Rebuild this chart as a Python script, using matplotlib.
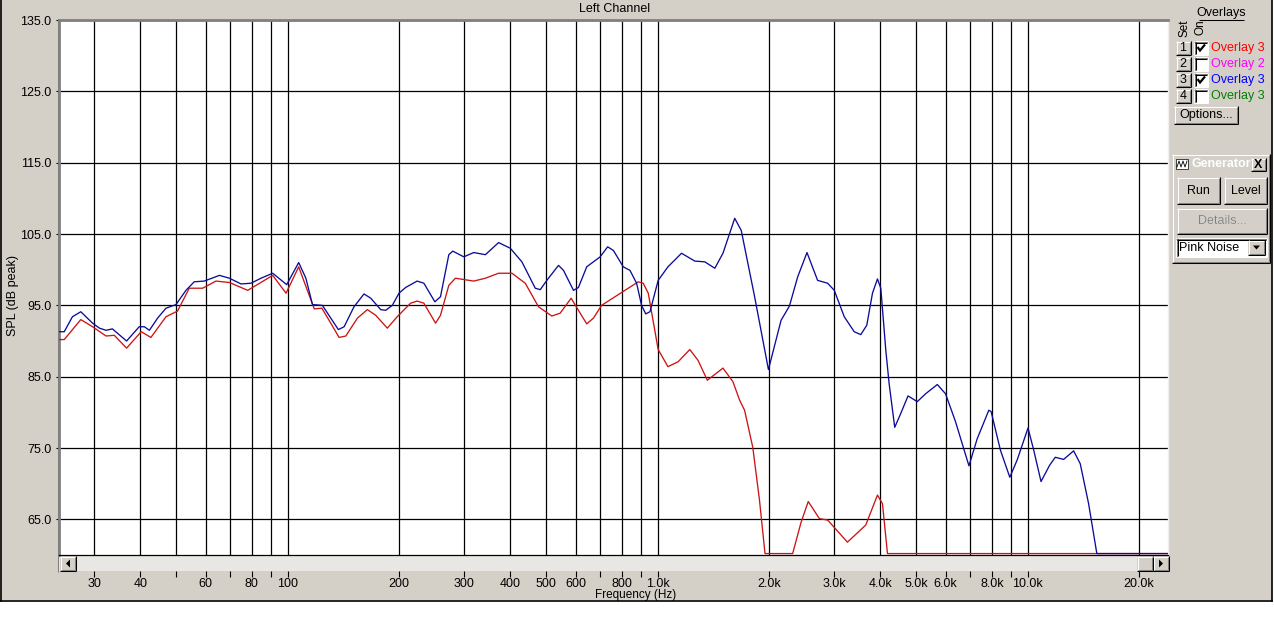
import numpy as np
import matplotlib
matplotlib.use('Agg')
import matplotlib.pyplot as plt
from matplotlib.patches import Rectangle, Polygon
from matplotlib.ticker import NullLocator

plt.rcParams['font.family'] = ['Liberation Sans', 'DejaVu Sans']

# ---------------- data ----------------
blue_freq = [24.0, 24.9, 26.2, 27.6, 29.7, 31.0, 32.3, 33.6, 36.7, 39.7,
             41.0, 42.3, 44.5, 46.9, 49.9, 53.1, 55.9, 59.5, 65.4, 69.6,
             74.8, 79.6, 84.7, 91.1, 99.4, 107.1, 112.0, 116.7, 124.1, 130.8,
             137.1, 142.1, 151.1, 160.8, 167.7, 178.4, 184.0, 191.8, 199.9, 208.3,
             223.8, 233.4, 249.9, 258.8, 272.6, 279.4, 299.2, 318.3, 342.2, 371.6,
             399.6, 429.5, 466.8, 481.6, 501.6, 539.4, 556.5, 592.1, 610.6, 643.0,
             699, 732.5, 758.9, 807.2, 841.6, 877, 904.6, 928.3, 952.9, 1003,
             1066, 1160, 1260, 1340, 1427, 1501, 1615, 1682, 1828, 1992,
             2155, 2270, 2390, 2532, 2705, 2879, 3001, 3193, 3397, 3539,
             3673, 3806, 3926, 4008, 4135, 4222, 4371, 4535, 4748, 5030,
             5297, 5697, 5997, 6380, 6937, 7303, 7851, 7964, 8438, 8945,
             9361, 10019, 10381, 10864, 11466, 11871, 12505, 13306, 13865, 14606,
             15375, 24000]
blue_db = [91.3, 91.3, 93.4, 94.1, 92.5, 91.8, 91.5, 91.7, 90.0, 92.0,
           92.0, 91.5, 93.2, 94.6, 95.1, 97.1, 98.3, 98.4, 99.2, 98.8,
           98.0, 98.1, 98.8, 99.5, 97.9, 101.0, 98.8, 95.1, 95.0, 93.2,
           91.6, 92.0, 94.8, 96.6, 96.0, 94.4, 94.3, 95.0, 96.7, 97.5,
           98.4, 98.1, 95.5, 96.2, 102.1, 102.6, 101.8, 102.4, 102.1, 103.8,
           103.0, 101.1, 97.4, 97.2, 98.5, 100.6, 99.9, 97.1, 97.5, 100.4,
           101.8, 103.2, 102.7, 100.4, 99.9, 98.1, 95.0, 93.8, 94.1, 98.5,
           100.4, 102.3, 101.2, 101.1, 100.2, 102.3, 107.2, 105.5, 96.2, 86.0,
           92.9, 94.9, 99.0, 102.4, 98.5, 98.1, 97.1, 93.4, 91.3, 90.9,
           92.2, 96.7, 98.7, 97.4, 88.7, 84.0, 77.9, 79.8, 82.3, 81.5,
           82.6, 83.9, 82.6, 78.7, 72.5, 76.3, 80.3, 80.1, 74.7, 70.9,
           73.3, 77.8, 74.7, 70.3, 72.6, 73.7, 73.4, 74.6, 72.8, 67.2,
           60.2, 60.2]

red_freq = [24.0, 24.9, 27.6, 29.7, 32.3, 34.0, 36.7, 40.2, 42.7, 46.9,
            50.4, 54.2, 58.9, 64.0, 69.6, 78.0, 91.1, 99.0, 107.1, 112.1,
            118, 123.7, 129.4, 137.7, 143.6, 154.3, 164.2, 173.0, 185.9, 197.7,
            214.9, 223.8, 233.4, 251, 258.8, 272.6, 284, 318.3, 342.2, 371.6,
            403.7, 438.6, 476.3, 517.5, 545, 583.6, 610.6, 643.0, 670.2, 705.5,
            798.7, 886.1, 914, 943, 1003, 1066, 1136, 1221, 1285, 1362,
            1501, 1597, 1665, 1717, 1807, 1884, 1950, 2316, 2438, 2552,
            2735, 2879, 3257, 3650, 3926, 4050, 4178, 24000]
red_db = [90.2, 90.2, 93.0, 92.0, 90.7, 90.8, 89.0, 91.3, 90.5, 93.4,
          94.2, 97.4, 97.4, 98.4, 98.2, 97.1, 99.2, 96.7, 100.4, 97.6,
          94.5, 94.6, 92.9, 90.5, 90.7, 93.2, 94.4, 93.6, 91.8, 93.4,
          95.3, 95.6, 95.3, 92.5, 93.6, 97.8, 98.8, 98.4, 98.8, 99.5,
          99.5, 98.1, 94.8, 93.5, 93.9, 96.0, 94.3, 92.4, 93.2, 95.0,
          96.8, 98.3, 98.1, 96.7, 88.8, 86.4, 87.1, 88.8, 87.3, 84.5,
          86.2, 84.3, 81.7, 80.3, 75.1, 67.7, 60.2, 60.2, 64.5, 67.5,
          65.1, 64.9, 61.8, 64.2, 68.4, 67.2, 60.2, 60.2]

grid_freqs = [30, 40, 50, 60, 70, 80, 90, 100, 200, 300, 400, 500, 600, 700,
              800, 900, 1000, 2000, 3000, 4000, 5000, 6000, 7000, 8000, 9000,
              10000, 20000]
freq_labels = ['30', '40', '', '60', '', '80', '', '100', '200', '300', '400',
               '500', '600', '', '800', '', '1.0k', '2.0k', '3.0k', '4.0k',
               '5.0k', '6.0k', '', '8.0k', '', '10.0k', '20.0k']
db_ticks = [65, 75, 85, 95, 105, 115, 125, 135]

overlay_names = ['Overlay 3', 'Overlay 2', 'Overlay 3', 'Overlay 3']
overlay_colors = ['#ff0000', '#ff00ff', '#0000ff', '#008000']
overlay_on = [True, False, True, False]

# ---------------- figure ----------------
W, H = 1274, 637
fig = plt.figure(figsize=(W / 100, H / 100), dpi=100)
fig.patch.set_facecolor('white')
GRAY = '#d4d0c8'
DARK = '#808080'


def fx(px):
    return px / W


def fy(py):
    return 1 - py / H


bg = fig.add_axes([0, 0, 1, 1])
bg.axis('off')
bg.add_patch(Rectangle((0, 0), 1272, 600, facecolor=GRAY, edgecolor='none'))
LW = 0.75
bg.plot([0.5, 0.5], [0, 600.5], color='black', lw=1.2)
bg.plot([0, 1272], [600.5, 600.5], color='black', lw=1.2)
bg.plot([1271.5, 1271.5], [0, 600.5], color='black', lw=1.2)


def hl(x0, x1, y, c):
    bg.plot([x0, x1], [y, y], color=c, lw=LW, solid_capstyle='butt')


def vl(x, y0, y1, c):
    bg.plot([x, x], [y0, y1], color=c, lw=LW, solid_capstyle='butt')


def raised(x0, y0, x1, y1, face=GRAY):
    bg.add_patch(Rectangle((x0, y0), x1 - x0, y1 - y0, facecolor=face, edgecolor='none'))
    hl(x0, x1, y0 + 0.5, 'white')
    vl(x0 + 0.5, y0, y1, 'white')
    hl(x0, x1, y1 - 0.5, 'black')
    vl(x1 - 0.5, y0, y1, 'black')
    hl(x0 + 1, x1 - 1, y1 - 1.5, DARK)
    vl(x1 - 1.5, y0 + 1, y1 - 1, DARK)


def sunken(x0, y0, x1, y1, face='white'):
    bg.add_patch(Rectangle((x0, y0), x1 - x0, y1 - y0, facecolor=face, edgecolor='none'))
    hl(x0, x1, y0 + 0.5, DARK)
    vl(x0 + 0.5, y0, y1, DARK)
    hl(x0 + 1, x1 - 1, y0 + 1.5, 'black')
    vl(x0 + 1.5, y0 + 1, y1 - 1, 'black')
    hl(x0, x1, y1 - 0.5, 'white')
    vl(x1 - 0.5, y0, y1, 'white')


# scrollbar
bg.add_patch(Rectangle((59, 555), 1110, 16, facecolor='#e9e7e3', edgecolor='none'))
vl(58, 20, 572, DARK)
raised(60, 556, 76, 571)
bg.add_patch(Polygon([(66, 563.5), (70, 559.5), (70, 567.5)], closed=True,
                     facecolor='black', edgecolor='none'))
raised(1137, 556, 1153, 571)
raised(1153, 556, 1169, 571)
bg.add_patch(Polygon([(1163, 563.5), (1159, 559.5), (1159, 567.5)], closed=True,
                     facecolor='black', edgecolor='none'))

# right panel: overlays
bg.text(1221, 13, 'Overlays', ha='center', va='center', fontsize=9)
hl(1199, 1244, 19.5, 'black')
bg.text(1184, 28, 'Set', ha='center', va='center', rotation=90, fontsize=8.5)
bg.text(1200, 27, 'On', ha='center', va='center', rotation=90, fontsize=8.5)
for i in range(4):
    cy = 48 + 16 * i
    raised(1176, cy - 7, 1191, cy + 7)
    bg.text(1183, cy, str(i + 1), ha='center', va='center', fontsize=9)
    sunken(1194, cy - 7, 1208, cy + 7)
    if overlay_on[i]:
        bg.plot([1197.5, 1200, 1205], [cy - 1, cy + 2.5, cy - 3.5], color='black', lw=1.6,
                solid_capstyle='butt', solid_joinstyle='miter')
    bg.text(1211, cy, overlay_names[i], ha='left', va='center', fontsize=9,
            color=overlay_colors[i])
raised(1174, 106, 1238, 124)
bg.text(1206, 115, 'Options...', ha='center', va='center', fontsize=9)

# generator window
raised(1172, 154, 1270, 263)
grad = np.linspace(0, 1, 100)[None, :]
bg.imshow(grad, extent=[1175, 1267, 171, 157], aspect='auto',
          cmap=matplotlib.colors.LinearSegmentedColormap.from_list('g', ['#808080', '#c8c8c8']),
          interpolation='bilinear')
bg.add_patch(Rectangle((1176, 159), 12, 10, facecolor='white', edgecolor='black', lw=0.5))
bg.plot([1177, 1179, 1181, 1183, 1185, 1187], [167, 161, 167, 161, 167, 161],
        color='black', lw=0.6)
bg.text(1191, 164, 'Generator', ha='left', va='center', fontsize=9,
        fontweight='bold', color='white')
raised(1251, 158, 1266, 171)
bg.text(1258.5, 164.5, 'X', ha='center', va='center', fontsize=9, fontweight='bold')
raised(1177, 177, 1220, 204)
bg.text(1198.5, 190.5, 'Run', ha='center', va='center', fontsize=9)
raised(1224, 177, 1267, 204)
bg.text(1245.5, 190.5, 'Level', ha='center', va='center', fontsize=9)
raised(1177, 208, 1267, 234)
bg.text(1222.5, 221.5, 'Details...', ha='center', va='center', fontsize=9, color='white')
bg.text(1222, 221, 'Details...', ha='center', va='center', fontsize=9, color=DARK)
sunken(1176, 238, 1267, 257)
bg.text(1179, 248, 'Pink Noise', ha='left', va='center', fontsize=9)
raised(1248, 240, 1265, 255)
bg.add_patch(Polygon([(1253, 245.5), (1260, 245.5), (1256.5, 249.5)], closed=True,
                     facecolor='black', edgecolor='none'))

bg.set_xlim(0, W)
bg.set_ylim(H, 0)

# labels
fig.text(fx(615), fy(9), 'Left Channel', ha='center', va='center', fontsize=9)
fig.text(fx(636), fy(595), 'Frequency (Hz)', ha='center', va='center', fontsize=8.5)
fig.text(fx(13), fy(296), 'SPL (dB peak)', ha='center', va='center', rotation=90, fontsize=9)

# ---------------- main plot ----------------
XMIN, XMAX = 24.1, 23940
ax = fig.add_axes([fx(59), fy(555), fx(1168) - fx(59), (555 - 20) / H])
ax.set_facecolor('white')
ax.set_xscale('log')
ax.set_xlim(XMIN, XMAX)
ax.set_ylim(60, 135)
ax.set_xticks(grid_freqs)
ax.set_xticklabels([])
ax.xaxis.set_minor_locator(NullLocator())
ax.tick_params(axis='x', length=0)
ax.set_yticks(db_ticks)
ax.set_yticklabels(['%.1f' % v for v in db_ticks])
ax.tick_params(axis='y', length=2.5, width=0.8, pad=3, labelsize=9, direction='out')
ax.grid(True, color='black', lw=0.9)
ax.set_axisbelow(True)
for s in ['left', 'top']:
    ax.spines[s].set_color(DARK)
    ax.spines[s].set_linewidth(2)
ax.spines['right'].set_color('#f0f0f0')
ax.spines['right'].set_linewidth(1)
ax.spines['bottom'].set_color('black')
ax.spines['bottom'].set_linewidth(0.9)
ax.axhline(135, color='black', lw=1.2, zorder=1)

ax.plot(red_freq, red_db, color='#cc1414', lw=0.95, zorder=3)
ax.plot(blue_freq, blue_db, color='#0c0c9c', lw=0.95, zorder=4)

# frequency tick strip below scrollbar
tx = fig.add_axes([fx(59), fy(571), fx(1168) - fx(59), 0.5 / H])
tx.patch.set_alpha(0)
for s in tx.spines.values():
    s.set_visible(False)
tx.set_xscale('log')
tx.set_xlim(XMIN, XMAX)
tx.set_xticks(grid_freqs)
tx.set_xticklabels(freq_labels)
tx.xaxis.set_minor_locator(NullLocator())
tx.set_yticks([])
tx.tick_params(axis='x', direction='out', length=4, width=0.8, pad=0.8, labelsize=9)

fig.savefig('out.png', dpi=100, facecolor='white')
